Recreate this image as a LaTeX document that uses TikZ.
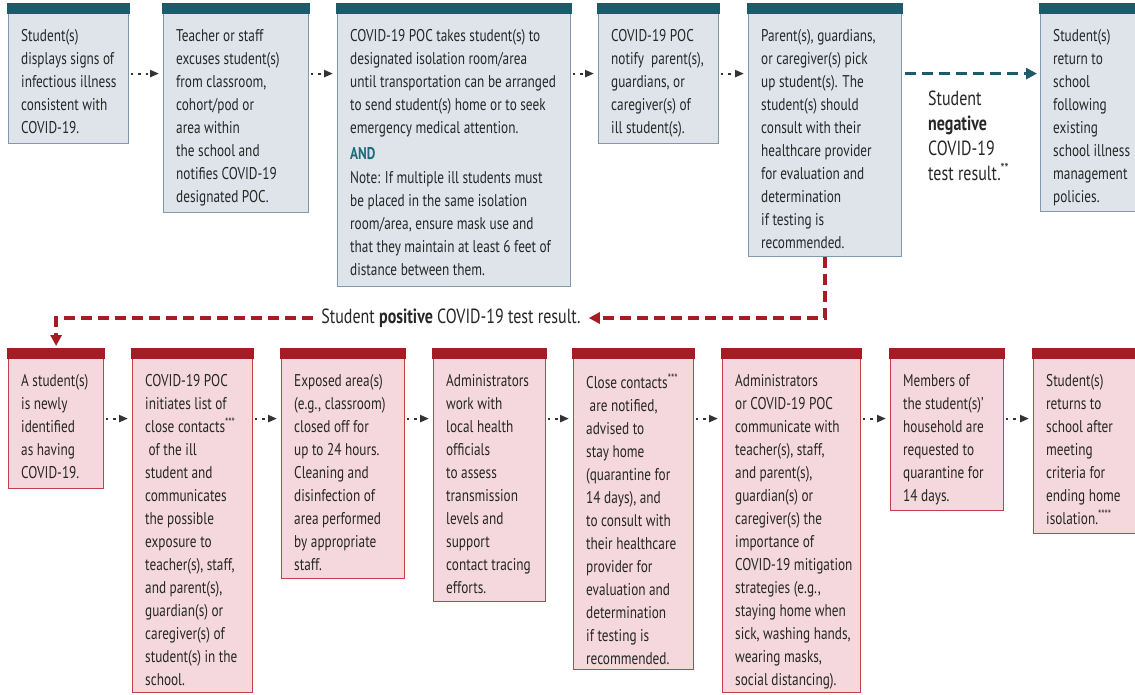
\documentclass[tikz,border=0pt]{standalone}
\usepackage{fontspec}
\setmainfont{PT Sans}[FakeStretch=0.78]
\usetikzlibrary{arrows.meta}
\definecolor{tealhead}{HTML}{1C5B69}
\definecolor{tealfill}{HTML}{DFE4EA}
\definecolor{tealline}{HTML}{7F9AAA}
\definecolor{andteal}{HTML}{1F6A7B}
\definecolor{redhead}{HTML}{A61C24}
\definecolor{redfill}{HTML}{F4D8DD}
\definecolor{redline}{HTML}{C2424C}
\definecolor{arrowgrey}{HTML}{333333}
\tikzset{
  tbox/.style={draw=tealline,fill=tealfill,line width=1.2pt,anchor=north west,inner sep=0pt},
  rbox/.style={draw=redline,fill=redfill,line width=1.2pt,anchor=north west,inner sep=0pt},
  thead/.style={fill=tealhead},
  rhead/.style={fill=redhead},
  txt/.style={anchor=north west,align=left,inner sep=0pt,text=black!85,
    font=\fontsize{17}{23}\selectfont},
  flow/.style={arrowgrey,line width=2.2pt,dash pattern=on 2.2pt off 5pt,
    shorten <=2pt,shorten >=4pt,-{Triangle[length=9pt,width=7pt]}},
  tealflow/.style={tealhead,line width=3.5pt,dash pattern=on 11pt off 6pt,
    shorten <=3pt,shorten >=3pt,-{Triangle[length=11pt,width=11pt]}},
  redflow/.style={redhead,line width=3.5pt,dash pattern=on 11pt off 6pt}
}
% box with coloured top bar: name, t/r, x, y, width, height, text
\newcommand{\flowbox}[7]{%
  \node[#2box,minimum width=#5pt,minimum height=#6pt] (#1) at (#3,#4) {};
  \fill[#2head] ([xshift=-0.6pt]#1.north west) rectangle ([xshift=0.6pt,yshift=-11pt]#1.north east);
  \node[txt] (#1t) at ([xshift=13pt,yshift=-26pt]#1.north west) {#7};
}
\begin{document}
\begin{tikzpicture}[x=1pt,y=1pt]
\useasboundingbox (0,0) rectangle (1135,-694);
% top row
\flowbox{s1}{t}{8}{-3}{120}{140}{Student(s)\\ displays signs of\\ infectious illness\\ consistent with\\ COVID-19.}
\flowbox{s2}{t}{163}{-3}{145}{209}{Teacher or staff\\ excuses student(s)\\ from classroom,\\ cohort/pod or\\ area within\\ the school and\\ notifies COVID-19\\ designated POC.}
\flowbox{s3}{t}{337}{-3}{233}{283}{COVID-19 POC takes student(s) to\\ designated isolation room/area\\ until transportation can be arranged\\ to send student(s) home or to seek\\ emergency medical attention.\\[3pt] {\bfseries\color{andteal}AND}\\[1pt] Note: If multiple ill students must\\ be placed in the same isolation\\ room/area, ensure mask use and\\ that they maintain at least 6 feet of\\ distance between them.}
\flowbox{s4}{t}{598}{-3}{120}{140}{COVID-19 POC\\ notify~ parent(s),\\ guardians, or\\ caregiver(s) of\\ ill student(s).}
\flowbox{s5}{t}{748}{-3}{153}{253}{Parent(s), guardians,\\ or caregiver(s) pick\\ up student(s). The\\ student(s) should\\ consult with their\\ healthcare provider\\ for evaluation and\\ determination\\ if testing is\\ recommended.}
\flowbox{s6}{t}{1040}{-3}{96}{208}{Student(s)\\ return to\\ school\\ following\\ existing\\ school illness\\ management\\ policies.}
% bottom row
\flowbox{p1}{r}{8}{-348}{95}{140}{A student(s)\\ is newly\\ identified\\ as having\\ COVID-19.}
\flowbox{p2}{r}{132}{-348}{120}{344}{COVID-19 POC\\ initiates list of\\ close contacts\textsuperscript{***}\\ \ of the ill\\ student and\\ communicates\\ the possible\\ exposure to\\ teacher(s), staff,\\ and parent(s),\\ guardian(s) or\\ caregiver(s) of\\ student(s) in the\\ school.}
\flowbox{p3}{r}{281}{-348}{123}{230}{Exposed area(s)\\ (e.g., classroom)\\ closed off for\\ up to 24 hours.\\ Cleaning and\\ disinfection of\\ area performed\\ by appropriate\\ staff.}
\flowbox{p4}{r}{433}{-348}{112}{253}{Administrators\\ work with\\ local health\\ officials\\ to assess\\ transmission\\ levels and\\ support\\ contact tracing\\ efforts.}
\flowbox{p5}{r}{573}{-348}{120}{321}{Close contacts\textsuperscript{***}\\ \ are notified,\\ advised to\\ stay home\\ (quarantine for\\ 14 days), and\\ to consult with\\ their healthcare\\ provider for\\ evaluation and\\ determination\\ if testing is\\ recommended.}
\flowbox{p6}{r}{722}{-348}{138}{344}{Administrators\\ or COVID-19 POC\\ communicate with\\ teacher(s), staff,\\ and parent(s),\\ guardian(s) or\\ caregiver(s) the\\ importance of\\ COVID-19 mitigation\\ strategies (e.g.,\\ staying home when\\ sick, washing hands,\\ wearing masks,\\ social distancing).}
\flowbox{p7}{r}{890}{-348}{113}{162}{Members of\\ the student(s)'\\ household are\\ requested to\\ quarantine for\\ 14 days.}
\flowbox{p8}{r}{1033}{-348}{103}{185}{Student(s)\\ returns to\\ school after\\ meeting\\ criteria for\\ ending home\\ isolation.\textsuperscript{****}}
% result labels
\node[txt,font=\fontsize{20.5}{25}\selectfont] (neg) at (928,-91) {Student\\ \textbf{negative}\\ COVID-19\\ test result.\textsuperscript{**}};
\node[txt,anchor=center,inner sep=8pt,font=\fontsize{20.5}{25}\selectfont] (pos) at (451,-318) {Student \textbf{positive} COVID-19 test result.};
% connectors
\foreach \a/\b in {s1/s2,s2/s3,s3/s4,s4/s5}
  \draw[flow] (\a.east |- s1.east) -- (\b.west |- s1.east);
\foreach \a/\b in {p1/p2,p2/p3,p3/p4,p4/p5,p5/p6,p6/p7,p7/p8}
  \draw[flow] (\a.east |- p1.east) -- (\b.west |- p1.east);
\draw[tealflow] (s5.east |- s1.east) -- (s6.west |- s1.east);
\draw[redflow,-{Triangle[length=11pt,width=11pt]}] (s5.south) |- (pos.east);
\draw[redflow,-{Triangle[length=11pt,width=11pt]},shorten >=2pt] (pos.west) -| (p1.north);
\end{tikzpicture}
\end{document}
